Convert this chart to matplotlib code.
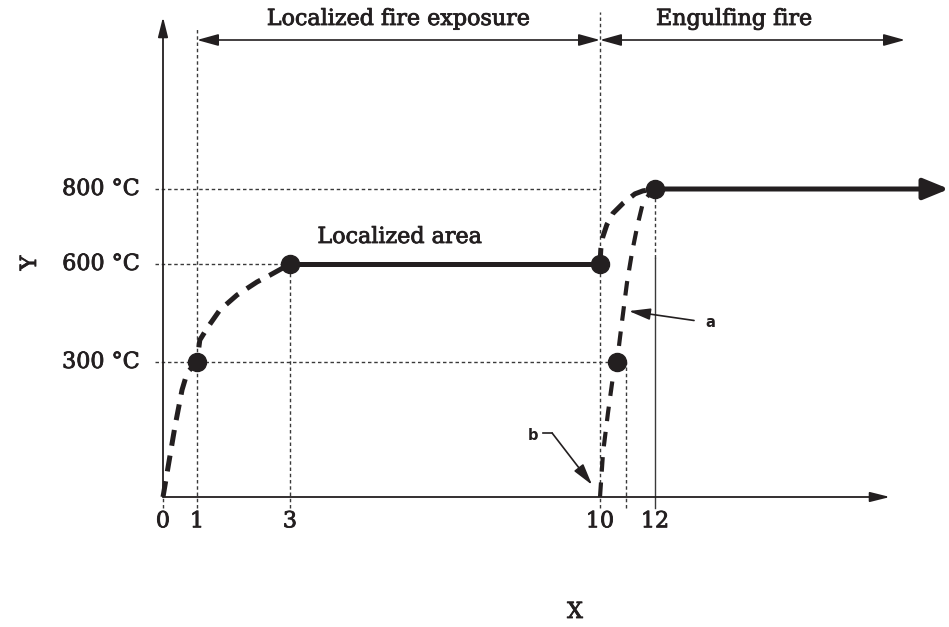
import numpy as np
import matplotlib
matplotlib.use("Agg")
import matplotlib.pyplot as plt
import matplotlib.patheffects as pe

# tick values on the schematic axes (not to scale)
x_ticks = [0, 1, 3, 10, 12]
x_tick_labels = ["0", "1", "3", "10", "12"]
y_levels = [300, 600, 800]
y_level_labels = ["300 °C", "600 °C", "800 °C"]

# localized fire: heating up to 600 °C, then plateau
local_rise_x = [0, 0.15, 0.35, 0.56, 0.71, 1, 1.06, 1.22, 1.49, 1.86, 2.29, 2.57, 3]
local_rise_y = [0, 67, 156, 238, 276, 300, 367, 404, 459, 505, 545, 566, 600]
plateau_x = [3, 10]
plateau_y = [600, 600]

# engulfing fire starting from the localized area (already at 600 °C)
engulf_hot_x = [10, 10.03, 10.1, 10.25, 10.47, 10.84, 11.27, 11.56, 12]
engulf_hot_y = [600, 640, 672, 705, 735, 762, 787, 795, 800]

# engulfing fire starting from ambient
engulf_cold_x = [10, 10.11, 10.29, 10.47, 10.62, 10.73, 10.84, 10.98, 11.16, 11.35, 11.56, 11.82, 12]
engulf_cold_y = [0, 98, 187, 267, 300, 377, 450, 542, 629, 699, 763, 789, 800]

# marked points
key_x = [1, 3, 10, 10.62, 12]
key_y = [300, 600, 600, 300, 800]

FONT = "DejaVu Serif"
INK = "#231f20"


def piecewise(knots, pos):
    # schematic axis: piecewise linear between the ticks
    knots = np.asarray(knots, float)
    pos = np.asarray(pos, float)
    s0 = (pos[1] - pos[0]) / (knots[1] - knots[0])
    s1 = (pos[-1] - pos[-2]) / (knots[-1] - knots[-2])

    def fwd(v):
        v = np.asarray(v, float)
        out = np.interp(v, knots, pos)
        out = np.where(v < knots[0], pos[0] + (v - knots[0]) * s0, out)
        out = np.where(v > knots[-1], pos[-1] + (v - knots[-1]) * s1, out)
        return out

    def inv(p):
        p = np.asarray(p, float)
        out = np.interp(p, pos, knots)
        out = np.where(p < pos[0], knots[0] + (p - pos[0]) / s0, out)
        out = np.where(p > pos[-1], knots[-1] + (p - pos[-1]) / s1, out)
        return out

    return fwd, inv


fx, ix = piecewise(x_ticks, [163, 197, 290, 600, 655])
fy, iy = piecewise([0] + y_levels, [130, 265, 363, 438])

fig = plt.figure(figsize=(9.49, 6.27), dpi=100)
ax = fig.add_axes([0, 0, 1, 1])
ax.set_xscale("function", functions=(fx, ix))
ax.set_yscale("function", functions=(fy, iy))
ax.set_xlim(float(ix(0)), float(ix(949)))
ax.set_ylim(float(iy(0)), float(iy(627)))
ax.axis("off")

xmin, xmax = ax.get_xlim()
below = float(iy(119))   # guide lines run a little under the x axis
left = float(ix(155))

guide = dict(color="#3a3a3a", lw=1.0, linestyle=(0, (2.5, 2)))

# horizontal guides
ax.plot([left, 10], [800, 800], **guide)
ax.plot([left, 10], [600, 600], **guide)
ax.plot([left, key_x[3]], [300, 300], **guide)

# vertical guides
ax.axvline(0, ymin=(627 - 508) / 627, ymax=130 / 627, **guide)
ax.axvline(1, ymin=(627 - 508) / 627, ymax=(627 - 28) / 627, **guide)
ax.axvline(10, ymin=(627 - 508) / 627, ymax=(627 - 12) / 627, **guide)
ax.plot([3, 3], [below, 600], **guide)
ax.plot([10.95, 10.95], [below, 300], **guide)
ax.plot([12, 12], [616, 800], **guide)
ax.plot([12, 12], [below, 616], color="#3a3a3a", lw=1.0)

# axes with arrowheads
axis_arrow = dict(arrowstyle="-|>,head_length=1.2,head_width=0.3", lw=1.3,
                  color=INK, mutation_scale=10, shrinkA=0, shrinkB=0)
ax.annotate("", xy=(0, (627 - 17) / 627), xycoords=("data", "axes fraction"),
            xytext=(0, 0), textcoords="data", arrowprops=axis_arrow)
ax.annotate("", xy=(890 / 949, 0), xycoords=("axes fraction", "data"),
            xytext=(0, 0), textcoords="data", arrowprops=axis_arrow)

# curves
dash = (0, (3.2, 2.0))
ax.plot(local_rise_x, local_rise_y, color=INK, lw=3.6, linestyle=dash)
ax.plot(plateau_x, plateau_y, color=INK, lw=3.6, solid_capstyle="butt")
ax.plot(engulf_hot_x, engulf_hot_y, color=INK, lw=3.6, linestyle=dash)
ax.plot(engulf_cold_x, engulf_cold_y, color=INK, lw=3.0, linestyle=(0, (3.5, 2.6)))
ax.annotate("", xy=(xmax, 800), xytext=(12, 800),
            arrowprops=dict(arrowstyle="-|>,head_length=1.1,head_width=0.45",
                            lw=3.6, color=INK, mutation_scale=14,
                            shrinkA=0, shrinkB=0))
ax.plot(key_x, key_y, "o", color=INK, markersize=13, zorder=5)

# top range arrows
range_y = (627 - 40) / 627
range_arrow = dict(arrowstyle="<|-|>,head_length=1.3,head_width=0.36", lw=1.2,
                   color=INK, mutation_scale=10, shrinkA=0, shrinkB=0)
ax.annotate("", xy=(1, range_y), xycoords=("data", "axes fraction"),
            xytext=(10, range_y), textcoords=("data", "axes fraction"),
            arrowprops=range_arrow)
ax.annotate("", xy=(10, range_y), xycoords=("data", "axes fraction"),
            xytext=(float(ix(905)), range_y), textcoords=("data", "axes fraction"),
            arrowprops=range_arrow)

heavy = [pe.withStroke(linewidth=0.6, foreground=INK)]
label_font = dict(family=FONT, fontsize=16, color=INK, path_effects=heavy)
ax.text(float(ix((fx(1) + fx(10)) / 2)), (627 - 19) / 627, "Localized fire exposure",
        ha="center", va="center", transform=ax.get_xaxis_transform(), **label_font)
ax.text(14.87, (627 - 19) / 627, "Engulfing fire",
        ha="center", va="center", transform=ax.get_xaxis_transform(), **label_font)
ax.text(5.48, 672, "Localized area", ha="center", va="center", **label_font)

# tick labels
for xv, lab in zip(x_ticks, x_tick_labels):
    ax.annotate(lab, xy=(xv, 0), xytext=(0, -17.5), textcoords="offset points",
                ha="center", va="center", **label_font)
for yv, lab in zip(y_levels, y_level_labels):
    ax.annotate(lab, xy=(0, yv), xytext=(-16.5, 0), textcoords="offset points",
                ha="right", va="center", **label_font)

# callouts a and b
small = dict(family="DejaVu Sans", fontsize=10.5, fontweight="bold", color=INK)
ax.annotate("a", xy=(11.05, 456), xytext=(14.0, 420), ha="center", va="center",
            arrowprops=dict(arrowstyle="-|>,head_length=1.3,head_width=0.35",
                            lw=1.2, color=INK, mutation_scale=10,
                            shrinkA=6, shrinkB=0), **small)
ax.plot([8.71, 8.92], [142, 142], color=INK, lw=1.2)
ax.annotate("", xy=(9.82, 27), xytext=(8.92, 142),
            arrowprops=dict(arrowstyle="-|>,head_length=1.3,head_width=0.35",
                            lw=1.2, color=INK, mutation_scale=10,
                            shrinkA=0, shrinkB=0))
ax.text(8.49, 136, "b", ha="center", va="center", **small)

# axis titles
fig.text(575 / 949, 1 - 612 / 627, "X", ha="center", va="center", **label_font)
fig.text(30 / 949, 1 - 263 / 627, "Y", ha="center", va="center", rotation=90, **label_font)

fig.savefig("out.png", dpi=100)
